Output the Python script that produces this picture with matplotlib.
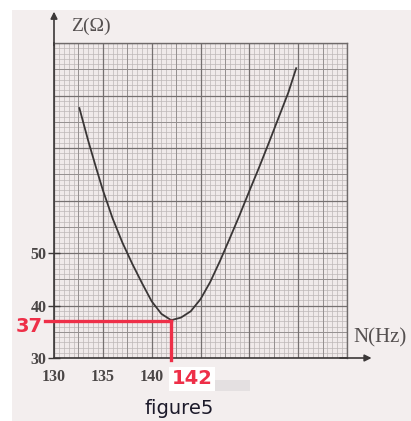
import matplotlib
matplotlib.use("Agg")
import matplotlib.pyplot as plt
import numpy as np
from matplotlib.patches import Rectangle

# ---- data ----
freq_hz = [132.6, 133.5, 134.3, 135.0, 136.0, 137.0, 138.0, 139.0, 140.0, 141.0,
           142.0, 143.0, 144.0, 145.0, 146.0, 147.0, 148.0, 149.0, 150.0,
           151.0, 152.0, 153.0, 154.0, 154.8]
impedance_ohm = [77.6, 71.4, 66.3, 62.0, 56.6, 52.0, 48.0, 44.3, 40.8, 38.4,
                 37.2, 37.7, 38.9, 41.2, 44.5, 48.5, 52.8, 57.2, 61.8,
                 66.3, 71.0, 75.8, 80.6, 85.2]
x_ticks = [130, 135, 140]
y_ticks = [30, 40, 50]
res_freq = 142
res_z = 37

W, H = 411, 421
fig = plt.figure(figsize=(W / 100, H / 100), dpi=100)
fig.patch.set_facecolor("white")

def fx(x):
    return x / W

def fy(y):
    return 1 - y / H

# photographed paper
fig.patches.append(Rectangle((fx(12), 0), 1 - fx(12), fy(10), transform=fig.transFigure,
                             facecolor="#f3eeee", edgecolor="none", zorder=-10))

left, right, top, bottom = 54, 347, 43, 358
ax = fig.add_axes([fx(left), fy(bottom), fx(right - left), fy(top) - fy(bottom)])
ax.set_zorder(2)
ax.set_xlim(130, 160)
ax.set_ylim(30, 90)
ax.set_facecolor("#f0eaea")

# graph paper grid
for v in np.arange(130, 160.01, 0.5):
    ax.axvline(v, color="#bdb7b7", lw=0.5, zorder=1)
for v in np.arange(30, 90.01, 1):
    ax.axhline(v, color="#bdb7b7", lw=0.5, zorder=1)
for v in np.arange(130, 160.01, 2.5):
    ax.axvline(v, color="#959090", lw=0.7, zorder=1)
for v in np.arange(30, 90.01, 5):
    ax.axhline(v, color="#959090", lw=0.7, zorder=1)
for v in np.arange(130, 160.01, 5):
    ax.axvline(v, color="#757070", lw=0.9, zorder=1)
for v in np.arange(30, 90.01, 10):
    ax.axhline(v, color="#757070", lw=0.9, zorder=1)

for s in ["top", "right"]:
    ax.spines[s].set_color("#6f6a6a")
    ax.spines[s].set_linewidth(1.0)
for s in ["left", "bottom"]:
    ax.spines[s].set_color("#3c3838")
    ax.spines[s].set_linewidth(1.2)

# curve
ax.plot(freq_hz, impedance_ohm, color="#3a3636", lw=1.3, zorder=3)

# axis arrows
ax.annotate("", xy=(162.8, 30), xytext=(159, 30), annotation_clip=False,
            arrowprops=dict(arrowstyle="-|>", color="#3c3838", lw=1.2, mutation_scale=10))
ax.annotate("", xy=(130, 96.5), xytext=(130, 89), annotation_clip=False,
            arrowprops=dict(arrowstyle="-|>", color="#3c3838", lw=1.2, mutation_scale=10))

# ticks
ax.set_xticks(x_ticks)
ax.set_xticklabels([str(t) for t in x_ticks], family="Liberation Serif",
                   fontweight="bold", fontsize=11.5, color="#4a4646")
ax.set_yticks(y_ticks)
ax.set_yticklabels([str(t) for t in y_ticks], family="Liberation Serif",
                   fontweight="bold", fontsize=11.5, color="#4a4646")
ax.tick_params(axis="x", length=0, pad=8)
ax.tick_params(axis="y", direction="inout", length=9, width=1.0, color="#3c3838", pad=1)

# axis labels
fig.text(fx(71), fy(26), "Z(Ω)", family="Liberation Serif", fontsize=14,
         color="#555050", va="center", ha="left")
fig.text(fx(353), fy(338), "N(Hz)", family="Liberation Serif", fontsize=15,
         color="#555050", va="center", ha="left")

# red resonance markers
red = "#ee2f48"
ax.plot([129.1, res_freq], [res_z, res_z], color=red, lw=2.4, clip_on=False, zorder=4)
ax.plot([res_freq, res_freq], [res_z, 29.6], color=red, lw=2.4, clip_on=False, zorder=4)
fig.text(fx(29), fy(326), str(res_z), color=red, fontsize=14, fontweight="bold",
         family="DejaVu Sans", ha="center", va="center")
fig.patches.append(Rectangle((fx(212), fy(391)), fx(38), fy(380) - fy(391),
                             transform=fig.transFigure, facecolor="#e4e0e1",
                             edgecolor="none", zorder=-5))
fig.text(fx(192), fy(379), str(res_freq), color=red, fontsize=14, fontweight="bold",
         family="DejaVu Sans", ha="center", va="center", zorder=5,
         bbox=dict(facecolor="white", edgecolor="none", pad=1.5))

fig.text(fx(179), fy(408), "figure5", color="#1c1a2a", fontsize=14,
         family="DejaVu Sans", ha="center", va="center")

fig.savefig("out.png", dpi=100)
